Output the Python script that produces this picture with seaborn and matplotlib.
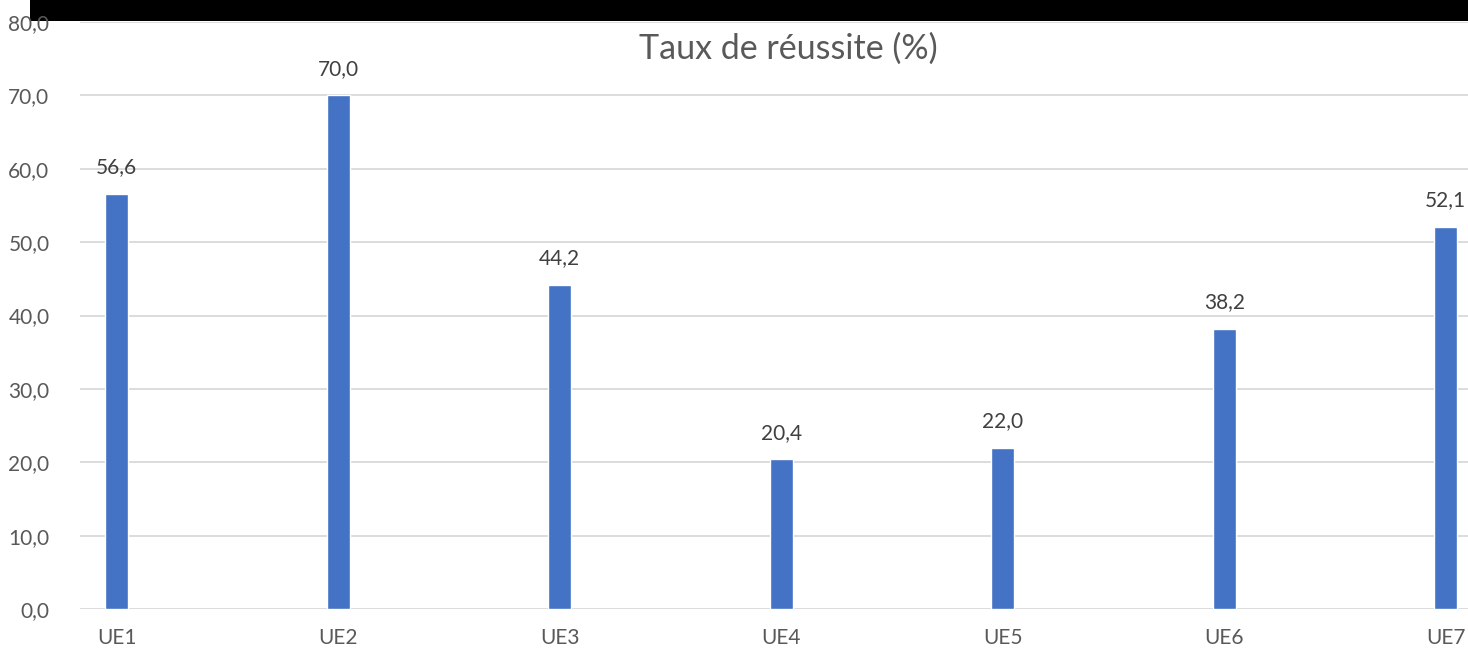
import matplotlib
matplotlib.use("Agg")
import matplotlib.pyplot as plt
import seaborn as sns
from matplotlib.patches import Rectangle

categories = ["UE1", "UE2", "UE3", "UE4", "UE5", "UE6", "UE7"]
taux = [56.6, 70.0, 44.2, 20.4, 22.0, 38.2, 52.1]
y_ticks = [0, 10, 20, 30, 40, 50, 60, 70, 80]

sns.set_theme(style="white")
plt.rcParams['font.family'] = ['Lato', 'DejaVu Sans']

W, H = 1468, 649
fig = plt.figure(figsize=(W / 100, H / 100), dpi=100)
ax = fig.add_axes([80 / W, (H - 609) / H, (W - 80) / W, (609 - 22) / H])
ax.set_facecolor("none")

sns.barplot(x=categories, y=taux, color="#4472C4", saturation=1, width=0.104, ax=ax, zorder=3)

def fr(v):
    return f"{v:.1f}".replace(".", ",")

for i, v in enumerate(taux):
    ax.annotate(fr(v), (i, v), xytext=(0, 12), textcoords="offset points",
                ha="center", va="bottom", fontsize=15, color="#404040")

ax.set_ylim(0, 80)
ax.set_xlim(-0.165, 6.10)
ax.set_yticks(y_ticks)
ax.set_yticklabels([fr(t) for t in y_ticks])
ax.yaxis.grid(True, color="#D9D9D9", linewidth=1.3, zorder=0)
ax.set_axisbelow(True)
for s in ax.spines.values():
    s.set_visible(False)
ax.tick_params(axis="y", length=0, pad=22, labelsize=15, labelcolor="#595959")
ax.tick_params(axis="x", length=0, pad=14, labelsize=15, labelcolor="#595959")
ax.set_xlabel("")
ax.set_ylabel("")

fig.patches.append(Rectangle((30 / W, 1 - 21 / H), 1, 21 / H, transform=fig.transFigure,
                             facecolor="black", edgecolor="none", zorder=-1))

fig.text(788.5 / W, 1 - 59 / H, "Taux de réussite (%)", ha="center", va="baseline",
         fontsize=24.5, color="#595959")

fig.savefig("out.png", dpi=100)
